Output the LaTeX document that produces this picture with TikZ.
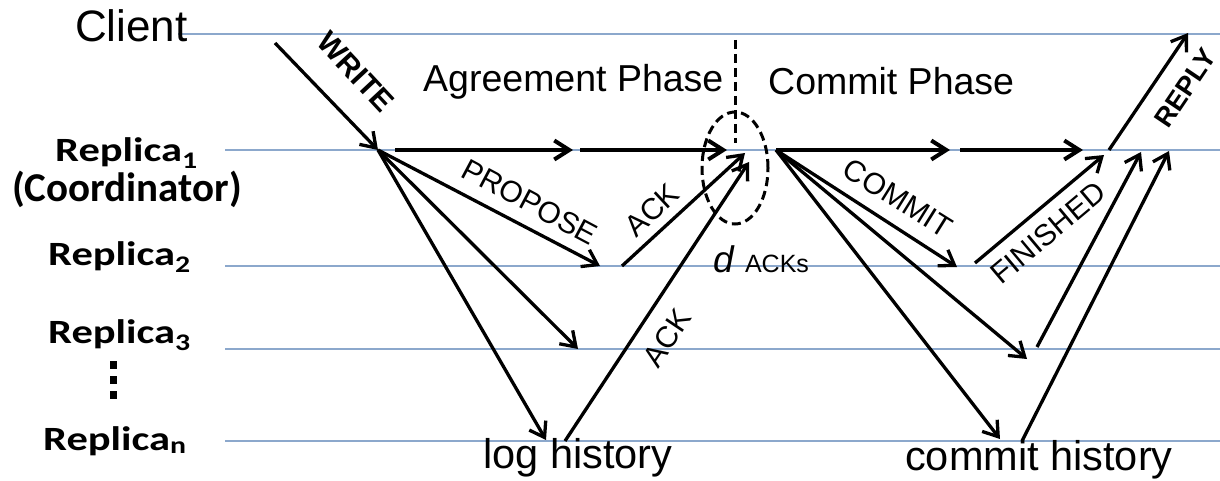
\documentclass[tikz,border=0pt]{standalone}
\usepackage{fontspec}
\setmainfont{Liberation Sans}
\newfontfamily\calfont{Carlito}
\usetikzlibrary{arrows.meta,shapes.geometric}

\definecolor{lifeblue}{RGB}{140,168,204}

\newcommand{\fsz}[1]{\fontsize{#1}{#1}\selectfont}
\newcommand{\replica}[1]{\scalebox{1.25}[1]{Replica\textsubscript{#1}}}

\begin{document}
\begin{tikzpicture}[x=1pt,y=-1pt,
  life/.style={draw=lifeblue,line width=1.5pt},
  msg/.style={line width=3.3pt,-{Straight Barb[length=14pt,width=19pt]}},
  flow/.style={line width=4pt,-{Straight Barb[length=15pt,width=19pt]}},
  txt/.style={inner sep=0pt,anchor=base west},
  rep/.style={txt,font=\calfont\bfseries\fsz{34}},
  tag/.style={inner sep=0pt,font=\fsz{30}},
  btag/.style={inner sep=0pt,font=\bfseries\fsz{30}},
  phase/.style={line width=3pt,dash pattern=on 9pt off 5pt}]
\useasboundingbox (0,0) rectangle (1220,481);

% lifelines
\draw[life] (178,34) -- (1220,34);
\foreach \y in {150,266,349,441}
  \draw[life] (225,\y) -- (1220,\y);

% process names
\node[txt,font=\fsz{44}] (client) at (75,42) {Client};
\node[rep] (r1) at (55,162) {\replica{1}};
\node[txt,font=\calfont\bfseries\fsz{41}] (coord) at (12,201) {(Coordinator)};
\node[rep] (r2) at (48,265) {\replica{2}};
\node[rep] (r3) at (48,343) {\replica{3}};
\node[rep] (rn) at (43,450) {\replica{n}};
\foreach \y in {365,380,395}
  \fill (110,\y-4) rectangle (117,\y+4);

% phases
\node[txt,font=\fsz{37.5}] (agree) at (423,92) {Agreement Phase};
\node[txt,font=\fsz{37.5}] (commit) at (768,95) {Commit Phase};
\node[draw,ellipse,phase,minimum width=66pt,minimum height=112pt,inner sep=0pt] (quorum) at (735,168) {};
\coordinate (split) at (735,40);
\coordinate (splitend) at (735,143);
\draw[phase] (split) -- (splitend);
\node[txt,font=\fsz{37}] (dacks) at (713,272) {\textit{d} {\fsz{25}ACKs}};
\node[txt,font=\fsz{41.5}] (log) at (483,468) {log history};
\node[txt,font=\fsz{41.5}] (hist) at (905,470) {commit history};

% event points
\coordinate (w0) at (275,43);
\coordinate (hub) at (378,150);
\coordinate (h1) at (395,150);  \coordinate (h2) at (573,150);
\coordinate (h3) at (580,150);  \coordinate (h4) at (727,150);
\coordinate (hub2) at (776,150);
\coordinate (h5) at (776,150);  \coordinate (h6) at (950,150);
\coordinate (h7) at (960,150);  \coordinate (h8) at (1083,150);
\coordinate (p2) at (600,266);  \coordinate (p3) at (578,349);
\coordinate (pn) at (546,440);
\coordinate (a2) at (622,266);  \coordinate (an) at (565,441);
\coordinate (e1) at (745,153);  \coordinate (e2) at (749,162);
\coordinate (c2) at (957,267);  \coordinate (c3) at (1027,359);
\coordinate (cn) at (1000,439);
\coordinate (f2) at (975,263);  \coordinate (f3) at (1037,347);
\coordinate (fn) at (1022,441);
\coordinate (g1) at (1104,155); \coordinate (g2) at (1141,152);
\coordinate (g3) at (1169,151);
\coordinate (y0) at (1109,150); \coordinate (y1) at (1188,33);

% write and coordinator timeline
\draw[msg] (w0) -- (hub);
\draw[flow] (h1) -- (h2);
\draw[flow] (h3) -- (h4);
\draw[flow] (h5) -- (h6);
\draw[flow] (h7) -- (h8);

% agreement
\draw[msg] (hub) -- (p2);
\draw[msg] (hub) -- (p3);
\draw[msg] (hub) -- (pn);
\draw[msg] (a2) -- (e1);
\draw[msg] (an) -- (e2);

% commit
\draw[msg] (hub2) -- (c2);
\draw[msg] (hub2) -- (c3);
\draw[msg] (hub2) -- (cn);
\draw[msg] (f2) -- (g1);
\draw[msg] (f3) -- (g2);
\draw[msg] (fn) -- (g3);
\draw[msg] (y0) -- (y1);

% message names
\node[btag,rotate=-47] (lwrite) at (356,72) {WRITE};
\node[tag,rotate=-28] (lprop) at (530,202) {PROPOSE};
\node[tag,rotate=43] (lack1) at (652,210) {ACK};
\node[tag,rotate=56] (lack2) at (667,338) {ACK};
\node[tag,rotate=-32] (lcommit) at (898,198) {COMMIT};
\node[tag,rotate=40] (lfin) at (1048,233) {FINISHED};
\node[btag,font=\bfseries\fsz{27},rotate=56] (lreply) at (1185,88) {REPLY};
\end{tikzpicture}
\end{document}
